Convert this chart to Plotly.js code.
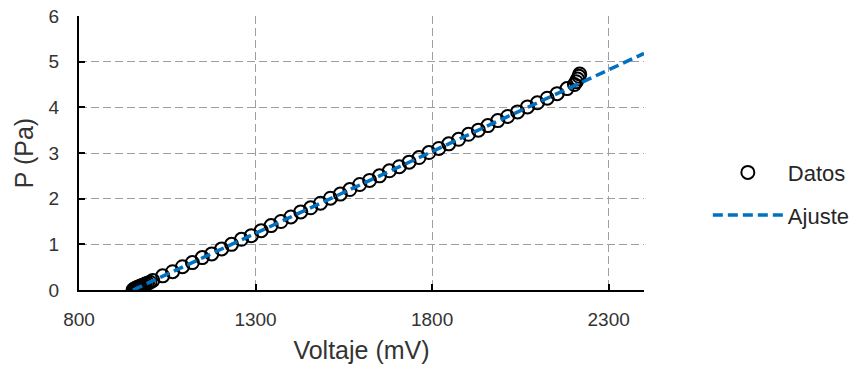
<!DOCTYPE html>
<html>
<head>
<meta charset="utf-8">
<script src="https://cdn.plot.ly/plotly-3.0.1.min.js"></script>
<style>html,body{margin:0;padding:0;background:#fff;}#chart{width:856px;height:373px;}</style>
</head>
<body>
<div id="chart"></div>
<script>
// Measured data (Voltaje in mV, P in Pa)
const voltaje = [
  953, 955, 957, 959, 961, 964, 967, 970, 974, 978, 983, 988, 994, 1001,
  1009, 1037, 1065, 1093, 1121, 1149, 1176, 1204, 1232, 1260, 1288, 1316,
  1344, 1372, 1400, 1428, 1456, 1484, 1512, 1540, 1567, 1595, 1623, 1651,
  1679, 1707, 1735, 1763, 1791, 1819, 1847, 1875, 1903, 1931, 1958, 1986,
  2014, 2042, 2070, 2098, 2126, 2154, 2182, 2203, 2208, 2212, 2216, 2218
];
const presion = [
  0.00, 0.01, 0.02, 0.03, 0.04, 0.05, 0.06, 0.07, 0.08, 0.10, 0.11, 0.13, 0.15, 0.17,
  0.21, 0.31, 0.40, 0.51, 0.60, 0.71, 0.79, 0.90, 1.00, 1.11, 1.19, 1.30,
  1.41, 1.50, 1.60, 1.71, 1.80, 1.90, 2.01, 2.10, 2.20, 2.31, 2.40, 2.50,
  2.61, 2.70, 2.80, 2.90, 3.01, 3.10, 3.20, 3.30, 3.41, 3.50, 3.60, 3.71,
  3.80, 3.90, 4.01, 4.10, 4.20, 4.30, 4.41, 4.50, 4.56, 4.62, 4.68, 4.73
];
// Linear fit (Ajuste) endpoints
const ajusteVoltaje = [953, 2400];
const ajusteP = [0, 5.18];

const xTicks = [800, 1300, 1800, 2300];
const yTicks = [0, 1, 2, 3, 4, 5, 6];

const fontFam = '"Liberation Sans", Arial, Helvetica, sans-serif';
const txtColor = '#333333';

const traces = [
  {
    x: voltaje, y: presion, name: 'Datos', type: 'scatter', mode: 'markers',
    legendgroup: 'a',
    marker: {symbol: 'circle-open', color: '#000', size: 13, line: {width: 2, color: '#000'}}
  },
  {
    x: ajusteVoltaje, y: ajusteP, name: 'Ajuste', type: 'scatter', mode: 'lines',
    legendgroup: 'b',
    line: {color: '#0070C0', width: 3.5, dash: '10px,5px'}
  }
];

const layout = {
  width: 856, height: 373,
  margin: {l: 79, r: 212, t: 16, b: 83, autoexpand: false},
  paper_bgcolor: '#fff', plot_bgcolor: '#fff',
  font: {family: fontFam, color: txtColor, size: 19},
  showlegend: true,
  legend: {
    x: 1.113, xanchor: 'left', y: 0.35, yanchor: 'middle',
    font: {size: 22, color: '#262626', family: fontFam},
    itemwidth: 70, traceorder: 'grouped', tracegroupgap: 11,
    bgcolor: 'rgba(0,0,0,0)'
  },
  xaxis: {
    range: [800, 2400], tickmode: 'array', tickvals: xTicks, ticktext: xTicks.map(String),
    showgrid: true, gridcolor: '#9e9e9e', gridwidth: 1, griddash: '8px,4px',
    zeroline: false, showline: true, linecolor: '#000', linewidth: 2,
    ticks: 'inside', ticklen: 6, tickwidth: 2, tickcolor: '#000',
    ticklabelstandoff: 11,
    tickfont: {size: 19, color: txtColor, family: fontFam},
    title: {text: 'Voltaje (mV)', font: {size: 25, color: txtColor, family: fontFam}, standoff: 13}
  },
  yaxis: {
    range: [0, 6], tickmode: 'array', tickvals: yTicks, ticktext: yTicks.map(String),
    showgrid: true, gridcolor: '#9e9e9e', gridwidth: 1, griddash: '8px,4px',
    zeroline: false, showline: true, linecolor: '#000', linewidth: 2,
    ticks: 'inside', ticklen: 6, tickwidth: 2, tickcolor: '#000',
    ticklabelstandoff: 14,
    tickfont: {size: 19, color: txtColor, family: fontFam},
    title: {text: 'P (Pa)', font: {size: 25, color: txtColor, family: fontFam}, standoff: 8}
  }
};

Plotly.newPlot('chart', traces, layout, {displayModeBar: false, staticPlot: true});
</script>
</body>
</html>
